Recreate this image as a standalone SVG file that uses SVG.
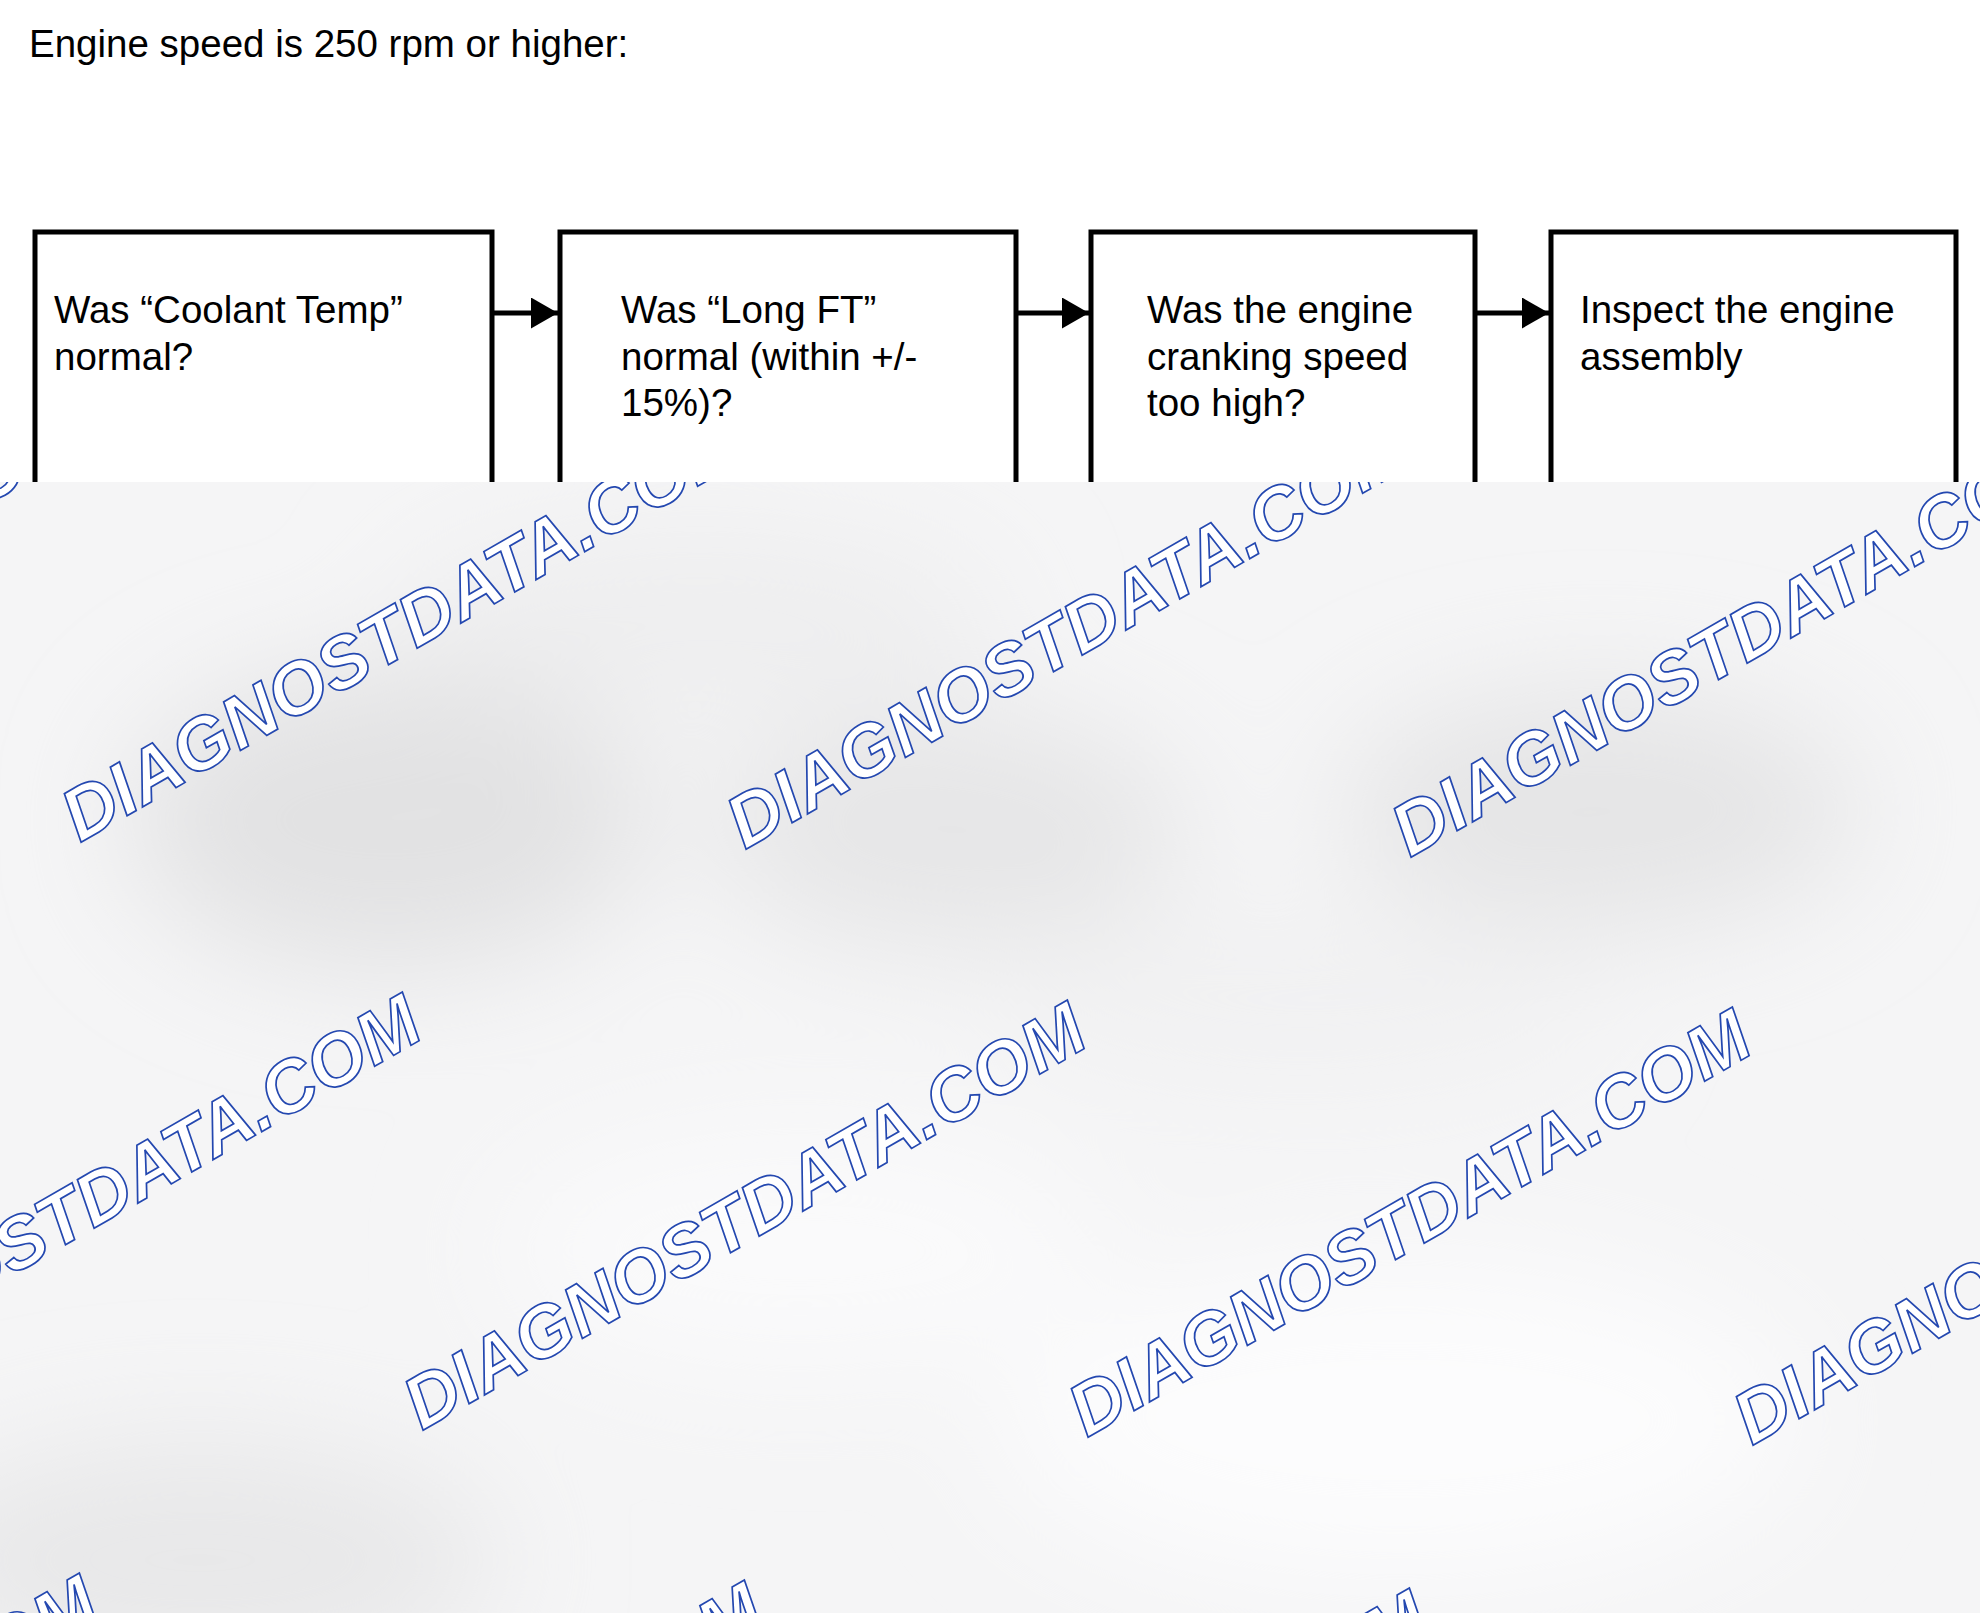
<svg xmlns="http://www.w3.org/2000/svg" width="1980" height="1613" viewBox="0 0 1980 1613">
  <style>
    .t { font-family: "Liberation Sans", Arial, sans-serif; font-size: 38.5px; fill: #000; }
    .box { fill: #fff; stroke: #000; stroke-width: 5; }
    .conn { stroke: #000; stroke-width: 5; fill: none; }
    .wm { font-family: "Liberation Sans", Arial, sans-serif; font-size: 73.5px; font-weight: bold; font-style: italic; fill: #fff; stroke: #2448b0; stroke-width: 1.7; }
  </style>
  <defs>
    <marker id="arr" markerUnits="userSpaceOnUse" markerWidth="28" markerHeight="31" refX="27" refY="15.5" orient="auto">
      <path d="M0,0 L27,15.5 L0,31 Z" fill="#000"/>
    </marker>
    <filter id="blur" x="-50%" y="-50%" width="200%" height="200%">
      <feGaussianBlur stdDeviation="60"/>
    </filter>
    <clipPath id="lower">
      <rect x="0" y="482" width="1980" height="1131"/>
    </clipPath>
  </defs>

  <rect x="0" y="0" width="1980" height="1613" fill="#fff"/>

  <text class="t" x="29" y="57">Engine speed is 250 rpm or higher:</text>

  <g id="node1">
    <rect class="box" x="35" y="232" width="457" height="500"/>
    <text class="t" x="54" y="323">Was “Coolant Temp”</text>
    <text class="t" x="54" y="369.5">normal?</text>
  </g>
  <g id="node2">
    <rect class="box" x="560" y="232" width="456" height="500"/>
    <text class="t" x="621" y="323">Was “Long FT”</text>
    <text class="t" x="621" y="369.5">normal (within +/-</text>
    <text class="t" x="621" y="416">15%)?</text>
  </g>
  <g id="node3">
    <rect class="box" x="1091" y="232" width="384" height="500"/>
    <text class="t" x="1147" y="323">Was the engine</text>
    <text class="t" x="1147" y="369.5">cranking speed</text>
    <text class="t" x="1147" y="416">too high?</text>
  </g>
  <g id="node4">
    <rect class="box" x="1551" y="232" width="405" height="500"/>
    <text class="t" x="1580" y="323">Inspect the engine</text>
    <text class="t" x="1580" y="369.5">assembly</text>
  </g>

  <g id="connectors">
    <line class="conn" x1="492" y1="313" x2="558" y2="313" marker-end="url(#arr)"/>
    <line class="conn" x1="1016" y1="313" x2="1089" y2="313" marker-end="url(#arr)"/>
    <line class="conn" x1="1475" y1="313" x2="1549" y2="313" marker-end="url(#arr)"/>
  </g>

  <g id="overlay" clip-path="url(#lower)">
    <rect x="0" y="482" width="1980" height="1131" fill="#f5f5f6"/>
    <g filter="url(#blur)">
      <ellipse cx="390" cy="820" rx="260" ry="150" fill="#e2e2e3"/>
      <ellipse cx="950" cy="830" rx="240" ry="120" fill="#e6e6e7"/>
      <ellipse cx="1600" cy="810" rx="260" ry="120" fill="#e5e5e6"/>
      <ellipse cx="200" cy="1560" rx="300" ry="120" fill="#e8e8e9"/>
      <ellipse cx="700" cy="620" rx="300" ry="90" fill="#eeeeef"/>
      <ellipse cx="1300" cy="1000" rx="300" ry="80" fill="#f1f1f2"/>
      <ellipse cx="1400" cy="1420" rx="400" ry="160" fill="#fcfcfd"/>
      <ellipse cx="800" cy="1250" rx="300" ry="120" fill="#fafafb"/>
    </g>
    <g id="watermarks">
      <text class="wm" transform="translate(-585,835) rotate(-30)">DIAGNOSTDATA.COM</text>
      <text class="wm" transform="translate(80,843) rotate(-30)">DIAGNOSTDATA.COM</text>
      <text class="wm" transform="translate(745,850) rotate(-30)">DIAGNOSTDATA.COM</text>
      <text class="wm" transform="translate(1410,858) rotate(-30)">DIAGNOSTDATA.COM</text>
      <text class="wm" transform="translate(-243,1423) rotate(-30)">DIAGNOSTDATA.COM</text>
      <text class="wm" transform="translate(422,1431) rotate(-30)">DIAGNOSTDATA.COM</text>
      <text class="wm" transform="translate(1087,1438) rotate(-30)">DIAGNOSTDATA.COM</text>
      <text class="wm" transform="translate(1752,1446) rotate(-30)">DIAGNOSTDATA.COM</text>
      <text class="wm" transform="translate(-566,2004) rotate(-30)">DIAGNOSTDATA.COM</text>
      <text class="wm" transform="translate(99,2011) rotate(-30)">DIAGNOSTDATA.COM</text>
      <text class="wm" transform="translate(764,2019) rotate(-30)">DIAGNOSTDATA.COM</text>
    </g>
  </g>
</svg>
